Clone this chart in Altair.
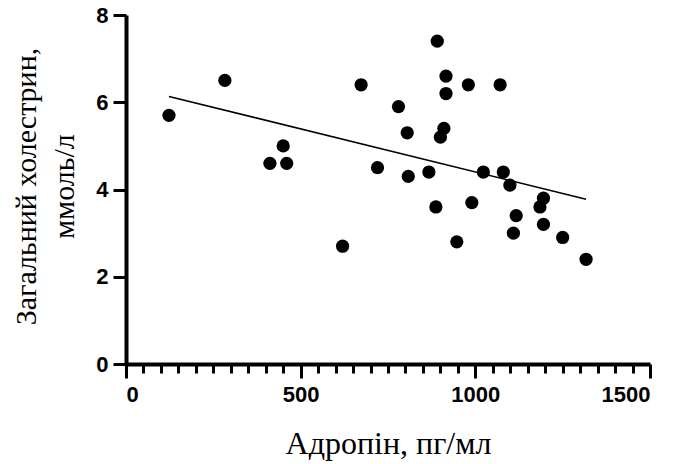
import altair as alt
import pandas as pd

adropin = [123, 283, 412, 450, 460, 620, 673, 720, 780, 805, 808, 867, 887, 891, 900, 910,
           916, 916, 947, 980, 990, 1023, 1071, 1080, 1099, 1109, 1117, 1185, 1195, 1195, 1250, 1317]
chol = [5.7, 6.5, 4.6, 5.0, 4.6, 2.7, 6.4, 4.5, 5.9, 5.3, 4.3, 4.4, 3.6, 7.4, 5.2, 5.4,
        6.6, 6.2, 2.8, 6.4, 3.7, 4.4, 6.4, 4.4, 4.1, 3.0, 3.4, 3.6, 3.8, 3.2, 2.9, 2.4]
x_major = [0, 500, 1000, 1500]
x_minor = [50, 100, 150, 200, 250, 300, 350, 400, 450,
           550, 600, 650, 700, 750, 800, 850, 900, 950,
           1050, 1100, 1150, 1200, 1250, 1300, 1350, 1400, 1450]
y_ticks = [0, 2, 4, 6, 8]

df = pd.DataFrame({"x": adropin, "y": chol})

x_axis = alt.Axis(
    values=x_major, orient="bottom",
    title="Адропін, пг/мл",
    titleFont="Liberation Serif", titleFontSize=32, titleFontWeight="normal",
    titleColor="black", titleBaseline="alphabetic", titleX=262, titleY=89,
    titleAnchor="middle", titleAlign="center",
    labelFont="Liberation Sans", labelFontSize=22, labelFontWeight="bold", labelColor="black",
    labelOverlap=False, labelPadding=6,
    tickSize=14, tickWidth=3, tickColor="black", domainWidth=4, domainColor="black",
    grid=False, format="d",
)
x_axis_minor = alt.Axis(
    values=x_minor, orient="bottom", title="", labels=False, domain=False,
    tickSize=9, tickWidth=3, tickColor="black", grid=False,
)
y_axis = alt.Axis(
    values=y_ticks,
    title=["Загальний холестрин,", "ммоль/л"],
    titleFont="Liberation Serif", titleFontSize=30, titleFontWeight="normal",
    titleColor="black", titleAngle=270, titleBaseline="alphabetic", titleAlign="center",
    titleX=-91, titleY=171, titleLineHeight=38,
    labelFont="Liberation Sans", labelFontSize=22, labelFontWeight="bold", labelColor="black",
    labelPadding=5, tickSize=13, tickWidth=3, tickColor="black",
    domainWidth=4, domainColor="black", grid=False,
)

xs = alt.Scale(domain=[0, 1500], nice=False, zero=False)
ys = alt.Scale(domain=[0, 8], nice=False, zero=False)

points = alt.Chart(df).mark_circle(size=175, color="black", opacity=1).encode(
    x=alt.X("x:Q", scale=xs, axis=x_axis),
    y=alt.Y("y:Q", scale=ys, axis=y_axis),
)
line = alt.Chart(df).transform_regression("x", "y").mark_line(color="black", strokeWidth=1.6).encode(
    x=alt.X("x:Q", scale=xs, axis=x_axis_minor),
    y=alt.Y("y:Q", scale=ys, axis=y_axis),
)

chart = alt.layer(points, line).resolve_axis(x="independent").properties(
    width=524, height=349, autosize="none",
    padding={"left": 126, "top": 15, "right": 32, "bottom": 100},
).configure(background="white").configure_view(stroke=None)

chart.save("out.html", embed_options={"renderer": "svg", "actions": False})
